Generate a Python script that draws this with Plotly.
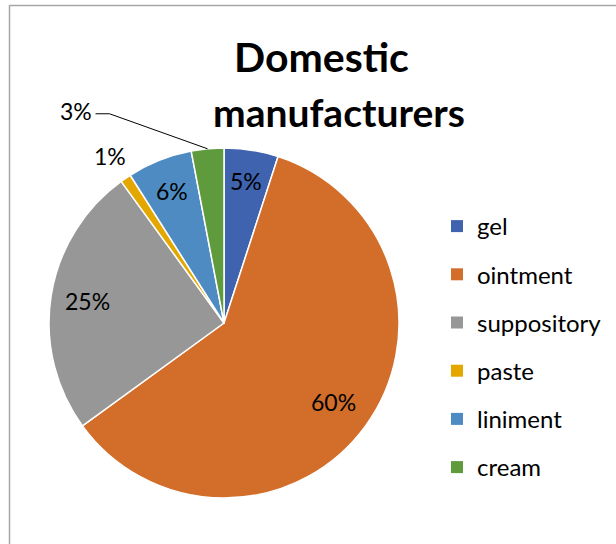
import math
import plotly.graph_objects as go

categories = ["gel", "ointment", "suppository", "paste", "liniment", "cream"]
values = [5, 60, 25, 1, 6, 3]
colors = ["#3F63AE", "#D26D2A", "#979797", "#E3A700", "#4D8BC2", "#5F9B3D"]
title_lines = ["Domestic", "manufacturers"]

# label placement radius (fraction of pie radius), Excel "best fit" style
label_radius = [0.82, 0.77, 0.79, 1.155, 0.81, None]

W, H = 616, 544
def px(x):
    return x / W
def py(y):
    return 1 - y / H

cx, cy, R = 224, 323, 175
FONT = "Lato, Carlito, Calibri, sans-serif"
LABEL_SIZE = 23

fig = go.Figure()
fig.add_trace(go.Pie(
    labels=categories, values=values, sort=False, direction="clockwise",
    rotation=0, marker=dict(colors=colors, line=dict(color="white", width=1.5)),
    textinfo="none",
    domain=dict(x=[px(cx - R), px(cx + R)], y=[py(cy + R), py(cy - R)]),
    showlegend=False, hoverinfo="label+percent",
))

# legend via dummy traces for Excel-like spacing
for c, col in zip(categories, colors):
    fig.add_trace(go.Scatter(
        x=[None], y=[None], mode="markers", name=c, legendgroup=c,
        marker=dict(symbol="square", size=12, color=col),
    ))

total = sum(values)
cum = 0
for v, rf in zip(values, label_radius):
    a = (cum + v / 2) / total * 2 * math.pi
    cum += v
    if rf is None:
        continue
    lx = cx + rf * R * math.sin(a)
    ly = cy - rf * R * math.cos(a)
    fig.add_annotation(x=px(lx), y=py(ly), xref="paper", yref="paper",
                       text=f"{round(v / total * 100)}%", showarrow=False,
                       xanchor="center", yanchor="middle",
                       font=dict(family=FONT, size=LABEL_SIZE, color="black"))

# 3% label with leader line
start = sum(values[:5]) / total
mid = (start + values[5] / total / 2) * 2 * math.pi
tipx = cx + R * math.sin(mid)
tipy = cy - R * math.cos(mid)
elbx, elby = tipx - 98, tipy - 35
fig.add_shape(type="path",
              path=f"M {px(tipx)} {py(tipy)} L {px(elbx)} {py(elby)} L {px(elbx - 14)} {py(elby)}",
              xref="paper", yref="paper", line=dict(color="black", width=1))
fig.add_annotation(x=px(elbx - 16), y=py(elby - 3), xref="paper", yref="paper",
                   text=f"{round(values[5] / total * 100)}%", showarrow=False,
                   xanchor="right", yanchor="middle",
                   font=dict(family=FONT, size=LABEL_SIZE, color="black"))

# title
fig.add_annotation(x=px(321), y=py(57), xref="paper", yref="paper", text=f"<b>{title_lines[0]}</b>",
                   showarrow=False, xanchor="center", yanchor="middle",
                   font=dict(family=FONT, size=41, color="black"))
fig.add_annotation(x=px(339), y=py(112), xref="paper", yref="paper", text=f"<b>{title_lines[1]}</b>",
                   showarrow=False, xanchor="center", yanchor="middle",
                   font=dict(family=FONT, size=39, color="black"))

# chart frame (left and top edges; right/bottom lie outside the view)
fig.add_shape(type="line", xref="paper", yref="paper",
              x0=px(9.5), y0=0, x1=px(9.5), y1=py(5),
              line=dict(color="#A6A6A6", width=1.5))
fig.add_shape(type="line", xref="paper", yref="paper",
              x0=px(9.5), y0=py(5.5), x1=1, y1=py(5.5),
              line=dict(color="#A6A6A6", width=1.5))

fig.update_layout(
    width=W, height=H, margin=dict(l=0, r=0, t=0, b=0),
    paper_bgcolor="white", plot_bgcolor="white",
    xaxis=dict(visible=False), yaxis=dict(visible=False),
    legend=dict(x=px(437), y=py(204), xanchor="left", yanchor="top",
                font=dict(family=FONT, size=24, color="black"),
                tracegroupgap=14, bgcolor="rgba(0,0,0,0)"),
)

fig.write_html("out.html", config={"displayModeBar": False},
               post_script="document.body.style.margin='0';")
